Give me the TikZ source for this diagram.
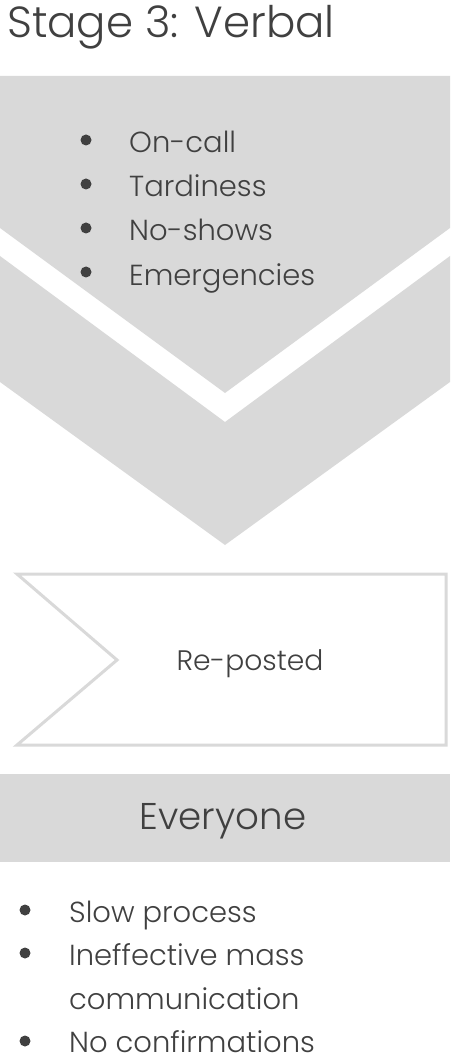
\documentclass[tikz,border=0pt]{standalone}
\usepackage{fontspec}
\setmainfont{Poppins Light}[Ligatures={NoCommon}]
\definecolor{shapegray}{HTML}{D9D9D9}
\definecolor{textgray}{HTML}{404040}
\tikzset{
  txt/.style={anchor=base west, inner sep=0pt, text=textgray},
  ctxt/.style={anchor=base, inner sep=0pt, text=textgray},
  listfont/.style={font=\fontsize{29}{44}\selectfont},
  bul/.style={circle, fill=textgray, inner sep=0pt, minimum size=11pt},
  band/.style={fill=shapegray, draw=none},
  outline/.style={draw=shapegray, line width=3pt, fill=white, line join=miter}
}
\begin{document}
\begin{tikzpicture}[x=1pt,y=-1pt]
\useasboundingbox (0,0) rectangle (450,1056);
% title
\node[txt, font=\fontsize{43.5}{50}\selectfont] (title) at (7,38) {Stage 3: Verbal};
% chevrons
\path[band] (0,76) -- (450,76) -- (450,228) -- (225,393) -- (0,228) -- cycle;
\path[band] (0,256) -- (225,422) -- (450,256) -- (450,382) -- (225,545) -- (0,382) -- cycle;
% top bullets
\foreach \t [count=\i] in {On-call,Tardiness,No-shows,Emergencies}{
  \pgfmathsetmacro{\yy}{153+44*(\i-1)}
  \node[bul] (tb\i) at (86,\yy-13) {};
  \node[txt, listfont] (tt\i) at (129,\yy) {\t};
}
% re-posted box
\draw[outline] (17,574) -- (446,574) -- (446,745) -- (17,745) -- (117,660) -- cycle;
\node[ctxt, font=\fontsize{28.2}{36}\selectfont] (repost) at (250,670) {Re-posted};
% everyone band
\path[band] (0,774) rectangle (450,862);
\node[ctxt, font=\fontsize{37.2}{46}\selectfont] (every) at (223,829) {Everyone};
% bottom bullets
\node[bul] (bb1) at (25,910) {};
\node[txt, listfont] (bt1) at (69,922) {Slow process};
\node[bul] (bb2) at (25,953) {};
\node[txt, listfont] (bt2) at (69,965) {Ineffective mass};
\node[txt, listfont] (bt3) at (69,1009) {communication};
\node[bul] (bb4) at (25,1041) {};
\node[txt, listfont] (bt4) at (69,1052) {No confirmations};
\end{tikzpicture}
\end{document}
